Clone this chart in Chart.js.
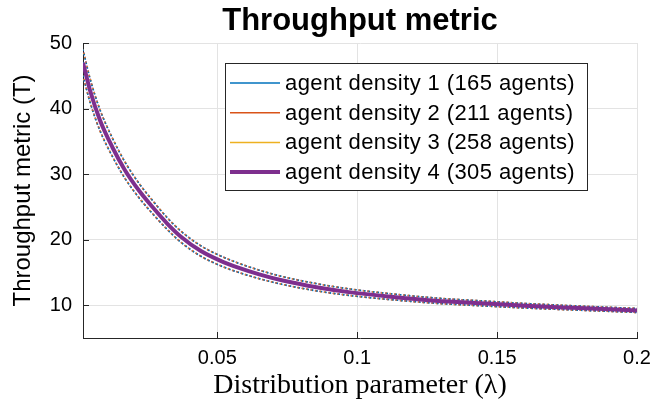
<!DOCTYPE html>
<html>
<head>
<meta charset="utf-8">
<script src="https://cdn.jsdelivr.net/npm/chart.js@4"></script>
<style>
  html, body { margin: 0; padding: 0; background: #fff; }
  #wrap { width: 651px; height: 408px; }
</style>
</head>
<body>
<div id="wrap"><canvas id="chartThroughput" width="651" height="408"></canvas></div>
<script>
// lambda values
const lambdas = [0.002, 0.0045, 0.008, 0.0125, 0.017, 0.022, 0.027, 0.032, 0.037, 0.044, 0.051,
                 0.058, 0.065, 0.073, 0.086, 0.097, 0.112, 0.128, 0.144, 0.16, 0.177, 0.2];

// mean throughput per agent density (the four solid curves sit on top of each other)
const density1 = [47.1, 42.9, 38.4, 34.2, 30.7, 27.6, 25.0, 22.6, 20.5, 18.35, 16.85, 15.7, 14.75, 13.85, 12.75, 12.05, 11.35, 10.75, 10.35, 9.95, 9.65, 9.25];
const density2 = [47.0, 42.8, 38.3, 34.1, 30.6, 27.5, 24.9, 22.5, 20.45, 18.3, 16.8, 15.65, 14.7, 13.8, 12.7, 12.0, 11.3, 10.7, 10.3, 9.92, 9.6, 9.2];
const density3 = [46.9, 42.7, 38.2, 34.0, 30.55, 27.45, 24.85, 22.45, 20.4, 18.25, 16.75, 15.6, 14.65, 13.75, 12.65, 11.95, 11.25, 10.65, 10.25, 9.9, 9.58, 9.18];
const density4 = [47.0, 42.8, 38.3, 34.1, 30.6, 27.5, 24.9, 22.5, 20.45, 18.3, 16.8, 15.65, 14.7, 13.8, 12.7, 12.0, 11.3, 10.7, 10.3, 9.92, 9.6, 9.2];

// dotted spread around the means
const upperBound = [49.0, 44.6, 39.9, 35.5, 31.85, 28.6, 25.9, 23.4, 21.3, 19.1, 17.55, 16.35, 15.35, 14.4, 13.25, 12.5, 11.75, 11.1, 10.68, 10.27, 9.92, 9.5];
const lowerBound = [45.0, 41.0, 36.7, 32.7, 29.35, 26.4, 23.9, 21.6, 19.6, 17.5, 16.05, 14.95, 14.05, 13.2, 12.15, 11.5, 10.85, 10.3, 9.92, 9.57, 9.28, 8.9];

const seriesLabels = ['agent density 1 (165 agents)', 'agent density 2 (211 agents)',
                      'agent density 3 (258 agents)', 'agent density 4 (305 agents)'];
const seriesColors = ['#0072BD', '#D95319', '#EDB120', '#7E2F8E'];
const xTicks = [0.05, 0.1, 0.15, 0.2];
const yTicks = [10, 20, 30, 40, 50];

const sansFont = '"Liberation Sans", Arial, Helvetica, sans-serif';
const serifFont = '"Liberation Serif", "Times New Roman", serif';

function toPoints(ys) {
    return lambdas.map((x, i) => ({ x: x, y: ys[i] }));
}

const means = [density1, density2, density3, density4];
const datasets = [];

means.forEach((ys, i) => {
    datasets.push({
        label: seriesLabels[i],
        data: toPoints(ys),
        borderColor: seriesColors[i],
        borderWidth: i === 3 ? 4 : 1.5,
        order: i === 3 ? 0 : 1,
        showInLegend: true
    });
});

// dotted bounds, one pair per density, dots shifted so the colours mix
const dashShift = [0, 0.5, 1.0, 1.5];
seriesColors.forEach((c, i) => {
    [upperBound, lowerBound].forEach(ys => {
        datasets.push({
            label: '',
            data: toPoints(ys),
            borderColor: c,
            borderWidth: 1.6,
            borderDash: [1.5, 3],
            borderDashOffset: dashShift[i],
            order: 2,
            showInLegend: false
        });
    });
});

// inward tick marks + legend box inside the axes
const matlabBits = {
    id: 'matlabBits',
    afterDraw(chart) {
        const ctx = chart.ctx;
        const xs = chart.scales.x;
        const ys = chart.scales.y;
        const area = chart.chartArea;
        ctx.save();
        ctx.strokeStyle = '#262626';
        ctx.lineWidth = 1;
        ctx.beginPath();
        yTicks.forEach(v => {
            const py = Math.round(ys.getPixelForValue(v)) + 0.5;
            ctx.moveTo(area.left, py);
            ctx.lineTo(area.left + 6, py);
        });
        xTicks.forEach(v => {
            const px = Math.round(xs.getPixelForValue(v)) + 0.5;
            ctx.moveTo(px, area.bottom);
            ctx.lineTo(px, area.bottom - 6);
        });
        ctx.stroke();

        // legend
        const box = { x: 225.5, y: 63.5, w: 362, h: 127 };
        ctx.fillStyle = '#fff';
        ctx.fillRect(box.x, box.y, box.w, box.h);
        ctx.strokeStyle = '#262626';
        ctx.strokeRect(box.x, box.y, box.w, box.h);
        ctx.font = '22px ' + sansFont;
        ctx.letterSpacing = '0.4px';
        ctx.textBaseline = 'middle';
        ctx.textAlign = 'left';
        const items = chart.data.datasets.filter(d => d.showInLegend);
        items.forEach((d, i) => {
            const rowY = 83 + i * 29.7;
            ctx.strokeStyle = d.borderColor;
            ctx.lineWidth = d.borderWidth;
            ctx.beginPath();
            ctx.moveTo(230, rowY);
            ctx.lineTo(280, rowY);
            ctx.stroke();
            ctx.fillStyle = '#000';
            ctx.fillText(d.label, 285, rowY + 1);
        });
        ctx.restore();
    }
};

const ctx = document.getElementById('chartThroughput').getContext('2d');

new Chart(ctx, {
    type: 'line',
    data: { datasets: datasets },
    options: {
        responsive: false,
        animation: false,
        layout: { padding: { top: 0, right: 14, bottom: 0, left: 0 } },
        elements: {
            point: { radius: 0 },
            line: { cubicInterpolationMode: 'monotone', fill: false }
        },
        plugins: {
            legend: { display: false },
            tooltip: { enabled: false },
            title: {
                display: true,
                fullSize: false,
                text: 'Throughput metric',
                color: '#000',
                font: { family: sansFont, size: 31, weight: 'bold', lineHeight: 1.2 },
                padding: { top: 2.6, bottom: 3.2 }
            }
        },
        scales: {
            x: {
                type: 'linear',
                min: 0.002,
                max: 0.2,
                afterBuildTicks: s => { s.ticks = xTicks.map(v => ({ value: v })); },
                afterFit: s => { s.height = 70; s.paddingLeft = 0; s.paddingRight = 0; },
                ticks: {
                    color: '#000',
                    padding: 8,
                    maxRotation: 0,
                    font: { family: sansFont, size: 20 },
                    callback: v => String(v)
                },
                grid: { color: '#e3e3e3', drawTicks: false },
                border: { color: '#262626', width: 1 },
                title: {
                    display: true,
                    text: 'Distribution parameter (λ)',
                    color: '#000',
                    font: { family: serifFont, size: 28 },
                    padding: { top: 0, bottom: 6 }
                }
            },
            y: {
                min: 5,
                max: 50,
                afterBuildTicks: s => { s.ticks = yTicks.map(v => ({ value: v })); },
                afterFit: s => { s.width = 83; s.paddingTop = 0; s.paddingBottom = 0; },
                ticks: {
                    color: '#000',
                    padding: 11,
                    font: { family: sansFont, size: 20 }
                },
                grid: { color: '#e3e3e3', drawTicks: false },
                border: { color: '#262626', width: 1 },
                title: {
                    display: true,
                    text: 'Throughput metric (T)',
                    color: '#000',
                    font: { family: sansFont, size: 24 },
                    padding: { top: 9, bottom: 0 }
                }
            }
        }
    },
    plugins: [matlabBits]
});
</script>
</body>
</html>
